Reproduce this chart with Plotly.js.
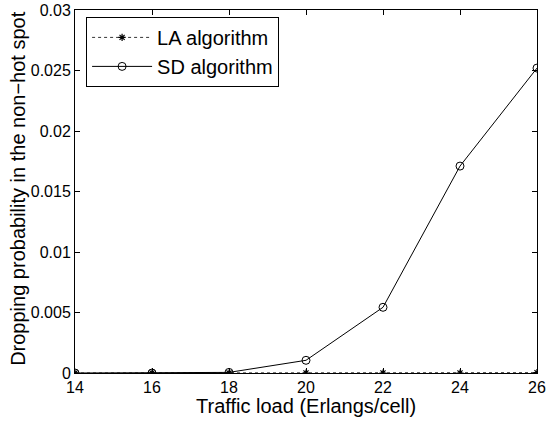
<!DOCTYPE html>
<html>
<head>
<meta charset="utf-8">
<script src="https://cdn.plot.ly/plotly-3.0.1.min.js"></script>
<style>html,body{margin:0;padding:0;background:#fff;}#chart{width:548px;height:425px;}</style>
</head>
<body>
<div id="chart"></div>
<script>
var trafficLoad = [14, 16, 18, 20, 22, 24, 26];
var laValues = [0, 0, 0, 0, 0, 0, 0.00003];
var sdValues = [0, 0, 0.00005, 0.00105, 0.00543, 0.0171, 0.0252];
var xTicks = [14, 16, 18, 20, 22, 24, 26];
var yTicks = [0, 0.005, 0.01, 0.015, 0.02, 0.025, 0.03];
var yTickLabels = ['0', '0.005', '0.01', '0.015', '0.02', '0.025', '0.03'];
var xTitle = 'Traffic load (Erlangs/cell)';
var yTitle = 'Dropping probability in the non\u2212hot spot';

var FONT = 'Liberation Sans, Arial, Helvetica, sans-serif';

var traces = [
  {x: trafficLoad, y: laValues, name: 'LA algorithm', mode: 'lines+markers',
   line: {color: '#000', width: 0.8, dash: 'dot'},
   marker: {symbol: 'asterisk-open', size: 6, color: '#000', line: {color: '#000', width: 1.2}}},
  {x: trafficLoad, y: sdValues, name: 'SD algorithm', mode: 'lines+markers',
   line: {color: '#000', width: 1},
   marker: {symbol: 'circle-open', size: 8, color: '#000', line: {color: '#000', width: 1}}}
];

var layout = {
  width: 548, height: 425,
  margin: {l: 75, r: 11, t: 10, b: 52},
  paper_bgcolor: '#fff', plot_bgcolor: '#fff',
  font: {family: FONT, color: '#000', size: 16},
  showlegend: true,
  legend: {x: 0.024, y: 0.981, xanchor: 'left', yanchor: 'top',
    bordercolor: '#000', borderwidth: 1, bgcolor: '#fff',
    font: {size: 20, family: FONT}, itemwidth: 60,
    tracegroupgap: 0},
  xaxis: {range: [14, 26], tickvals: xTicks, ticktext: xTicks.map(String),
    ticks: 'inside', ticklen: 5, tickcolor: '#000', showgrid: false, zeroline: false,
    showline: true, linecolor: '#000', linewidth: 1, mirror: 'ticks',
    tickfont: {size: 16}},
  yaxis: {range: [0, 0.03], tickvals: yTicks, ticktext: yTickLabels,
    ticks: 'inside', ticklen: 5, tickcolor: '#000', showgrid: false, zeroline: false,
    showline: true, linecolor: '#000', linewidth: 1, mirror: 'ticks',
    tickfont: {size: 16}},
  annotations: [
    {text: xTitle, xref: 'paper', yref: 'paper', x: 0.5, y: -0.056,
     xanchor: 'center', yanchor: 'top', showarrow: false, font: {size: 20, family: FONT}},
    {text: yTitle, xref: 'paper', yref: 'paper', x: -0.1234, y: 0.51,
     xanchor: 'center', yanchor: 'middle', textangle: -90, showarrow: false, font: {size: 20, family: FONT}}
  ]
};

Plotly.newPlot('chart', traces, layout, {displayModeBar: false, staticPlot: true});
</script>
</body>
</html>
